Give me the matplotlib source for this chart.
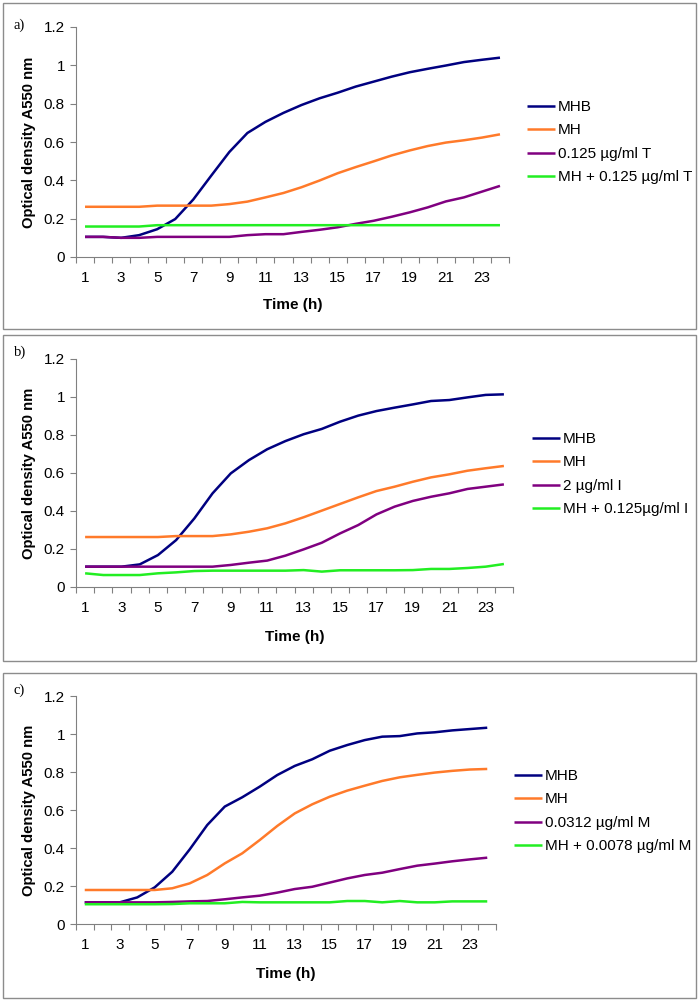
import matplotlib
matplotlib.use("Agg")
import matplotlib.pyplot as plt
from matplotlib.patches import Rectangle
import numpy as np

plt.rcParams['font.family'] = ['Liberation Sans', 'DejaVu Sans']

hours = list(range(1, 25))

# Panel a
a_mhb = [0.105, 0.105, 0.100, 0.114, 0.145, 0.198, 0.300, 0.425, 0.548, 0.647, 0.705, 0.752,
         0.793, 0.828, 0.857, 0.889, 0.915, 0.941, 0.964, 0.982, 0.999, 1.017, 1.029, 1.040]
a_mh = [0.262, 0.262, 0.262, 0.262, 0.268, 0.268, 0.268, 0.268, 0.276, 0.289, 0.311, 0.334,
        0.364, 0.399, 0.437, 0.469, 0.499, 0.530, 0.556, 0.579, 0.597, 0.609, 0.623, 0.640]
a_drug = [0.105, 0.105, 0.100, 0.100, 0.105, 0.105, 0.105, 0.105, 0.105, 0.114, 0.119, 0.119,
          0.131, 0.142, 0.155, 0.173, 0.189, 0.210, 0.233, 0.259, 0.290, 0.311, 0.341, 0.371]
a_comb = [0.159, 0.159, 0.159, 0.159, 0.166, 0.166, 0.166, 0.166, 0.166, 0.166, 0.166, 0.166,
          0.166, 0.166, 0.166, 0.166, 0.166, 0.166, 0.166, 0.166, 0.166, 0.166, 0.166, 0.166]
a_labels = ["MHB", "MH", "0.125 µg/ml T", "MH + 0.125 µg/ml T"]

# Panel b
b_mhb = [0.107, 0.107, 0.107, 0.119, 0.168, 0.247, 0.361, 0.493, 0.598, 0.668, 0.725, 0.768,
         0.804, 0.832, 0.870, 0.902, 0.926, 0.944, 0.961, 0.979, 0.984, 0.998, 1.011, 1.014]
b_mh = [0.263, 0.263, 0.263, 0.263, 0.263, 0.268, 0.268, 0.268, 0.277, 0.291, 0.309, 0.335,
        0.367, 0.402, 0.437, 0.472, 0.505, 0.528, 0.554, 0.577, 0.593, 0.612, 0.625, 0.637]
b_drug = [0.107, 0.107, 0.107, 0.107, 0.107, 0.107, 0.107, 0.107, 0.116, 0.128, 0.139, 0.165,
          0.198, 0.233, 0.282, 0.326, 0.382, 0.423, 0.453, 0.475, 0.493, 0.516, 0.528, 0.540]
b_comb = [0.072, 0.063, 0.063, 0.063, 0.072, 0.077, 0.084, 0.086, 0.086, 0.086, 0.086, 0.086,
          0.089, 0.081, 0.088, 0.088, 0.088, 0.088, 0.089, 0.095, 0.095, 0.100, 0.107, 0.121]
b_labels = ["MHB", "MH", "2 µg/ml I", "MH + 0.125µg/ml I"]

# Panel c
c_mhb = [0.114, 0.114, 0.114, 0.140, 0.193, 0.275, 0.393, 0.521, 0.618, 0.667, 0.723, 0.784,
         0.832, 0.867, 0.912, 0.942, 0.968, 0.986, 0.989, 1.003, 1.009, 1.019, 1.026, 1.033]
c_mh = [0.179, 0.179, 0.179, 0.179, 0.179, 0.188, 0.214, 0.258, 0.319, 0.372, 0.442, 0.516,
        0.582, 0.630, 0.670, 0.702, 0.728, 0.753, 0.772, 0.785, 0.797, 0.806, 0.813, 0.816]
c_drug = [0.114, 0.114, 0.114, 0.114, 0.114, 0.116, 0.119, 0.121, 0.130, 0.140, 0.149, 0.165,
          0.184, 0.196, 0.218, 0.240, 0.258, 0.270, 0.289, 0.307, 0.318, 0.330, 0.340, 0.349]
c_comb = [0.104, 0.104, 0.104, 0.104, 0.104, 0.105, 0.109, 0.109, 0.109, 0.116, 0.114, 0.114,
          0.114, 0.114, 0.114, 0.121, 0.121, 0.114, 0.121, 0.114, 0.114, 0.119, 0.119, 0.119]
c_labels = ["MHB", "MH", "0.0312 µg/ml M", "MH + 0.0078 µg/ml M"]

panel_letters = ["a)", "b)", "c)"]
y_ticks = [0, 0.2, 0.4, 0.6, 0.8, 1.0, 1.2]
y_tick_labels = ["0", "0.2", "0.4", "0.6", "0.8", "1", "1.2"]
x_tick_labels = [str(h) for h in range(1, 24, 2)]

colors = ["#000080", "#FF7A2A", "#800080", "#22EE22"]

W, H = 700, 1002
fig = plt.figure(figsize=(W / 100, H / 100), dpi=100)

def fx(px):
    return px / W

def fy(py):
    return 1 - py / H

# panel frames (pixel): x0, y0, x1, y1
frames = [(3, 3, 696, 329), (3, 335, 696, 661), (3, 673, 696, 998)]
for (x0, y0, x1, y1) in frames:
    fig.add_artist(Rectangle((fx(x0), fy(y1)), fx(x1 - x0), (y1 - y0) / H,
                             transform=fig.transFigure, fill=False,
                             edgecolor="#8c8c8c", lw=1.0))

# axes rects (pixel): left, top, right, bottom
axes_px = [(76, 27, 509, 257), (76, 359, 513, 587), (76, 696, 496, 924)]
legend_px = [(527, 106), (532, 438), (514, 775)]
letter_px = [(14, 25), (14, 352), (14, 690)]
xlabel_center_px = [303, 635, 972]
ylabel_center_x = 28

data = [(a_mhb, a_mh, a_drug, a_comb, a_labels),
        (b_mhb, b_mh, b_drug, b_comb, b_labels),
        (c_mhb, c_mh, c_drug, c_comb, c_labels)]

FS = 11
for i, (s1, s2, s3, s4, labs) in enumerate(data):
    l, t, r, b = axes_px[i]
    wpx, hpx = r - l, b - t
    ax = fig.add_axes([fx(l), fy(b), fx(wpx), hpx / H])
    handles = []
    for series, col, lab in zip([s1, s2, s3, s4], colors, labs):
        h, = ax.plot(hours, series, color=col, lw=1.8, label=lab, solid_capstyle='butt')
        handles.append(h)
    ax.set_xlim(0.5, 24.5)
    ax.set_ylim(0, 1.2)
    ax.set_yticks(y_ticks)
    ax.set_yticklabels(y_tick_labels)
    ax.set_xticks(list(range(1, 24, 2)))
    ax.set_xticklabels(x_tick_labels)
    ax.set_xticks(np.arange(0.5, 25, 1.0), minor=True)
    ax.tick_params(axis='x', which='major', length=0, pad=10, labelsize=FS)
    ax.tick_params(axis='x', which='minor', length=4, width=0.8, color="#808080", direction='out')
    ax.tick_params(axis='y', which='major', length=4, width=0.8, color="#808080", pad=4, labelsize=FS)
    for sp in ['top', 'right']:
        ax.spines[sp].set_visible(False)
    for sp in ['left', 'bottom']:
        ax.spines[sp].set_color("#808080")
        ax.spines[sp].set_linewidth(0.8)
    ax.set_ylabel("Optical density A550 nm", fontsize=10.7, fontweight='bold')
    ax.set_xlabel("Time (h)", fontsize=FS, fontweight='bold')
    # y label: anchor is right edge (bottom of rotated text)
    ax.yaxis.set_label_coords((ylabel_center_x + 8 - l) / wpx, 0.5)
    ax.xaxis.set_label_coords(0.5, -(xlabel_center_px[i] - 5 - b) / hpx)
    lx, ly = legend_px[i]
    fig.legend(handles=handles, loc='upper left',
               bbox_to_anchor=(fx(lx), fy(ly - 6)), bbox_transform=fig.transFigure,
               frameon=False, fontsize=FS, handlelength=1.83, handletextpad=0.2,
               labelspacing=0.62, borderpad=0, borderaxespad=0)
    px_, py_ = letter_px[i]
    fig.text(fx(px_), fy(py_), panel_letters[i], fontsize=10.5,
             family=['Liberation Serif', 'DejaVu Serif'], va='center', ha='left')

fig.savefig("out.png", dpi=100)
